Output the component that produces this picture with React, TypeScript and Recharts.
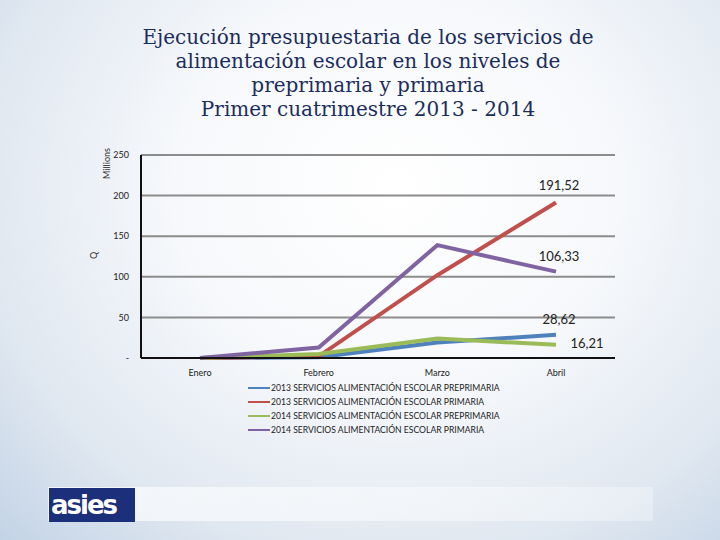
import { CartesianGrid, LabelList, Line, LineChart, XAxis, YAxis } from "recharts";

const MONTHS = ["Enero", "Febrero", "Marzo", "Abril"];
const PRE_2013 = [0, 1, 19, 28.62];
const PRI_2013 = [0, 2, 102, 191.52];
const PRE_2014 = [0, 5, 24, 16.21];
const PRI_2014 = [0, 13, 139, 106.33];
const Y_TICKS = [0, 50, 100, 150, 200, 250];

const SERIES = [
  { key: "pre13", name: "2013 SERVICIOS ALIMENTACIÓN ESCOLAR PREPRIMARIA", color: "#4f81bd", values: PRE_2013, dx: 3, dy: -16 },
  { key: "pri13", name: "2013 SERVICIOS ALIMENTACIÓN ESCOLAR PRIMARIA", color: "#c0504d", values: PRI_2013, dx: 3, dy: -17 },
  { key: "pre14", name: "2014 SERVICIOS ALIMENTACIÓN ESCOLAR PREPRIMARIA", color: "#9bbb59", values: PRE_2014, dx: 31, dy: -2 },
  { key: "pri14", name: "2014 SERVICIOS ALIMENTACIÓN ESCOLAR PRIMARIA", color: "#8064a2", values: PRI_2014, dx: 3, dy: -16 },
];

const data = MONTHS.map((m, i) => {
  const row: Record<string, string | number> = { month: m };
  SERIES.forEach((s) => (row[s.key] = s.values[i]));
  return row;
});

const fmt = (v: number) => v.toFixed(2).replace(".", ",");

function endLabel(dx: number, dy: number) {
  return (props: any) => {
    const { x, y, value, index } = props;
    if (index !== MONTHS.length - 1) return null;
    return (
      <text x={x + dx} y={y + dy} textAnchor="middle" dominantBaseline="central" fontSize={13} fill="#222" fontFamily="Lato, sans-serif">
        {fmt(Number(value))}
      </text>
    );
  };
}

function LegendBox() {
  return (
    <div style={{ position: "absolute", left: 248, top: 381, fontFamily: "Lato, sans-serif", fontSize: 8.6, color: "#222" }}>
      {SERIES.map((s) => (
        <div key={s.key} style={{ display: "flex", alignItems: "center", height: 14 }}>
          <div style={{ width: 22, height: 2, background: s.color, marginRight: 1 }} />
          <span>{s.name}</span>
        </div>
      ))}
    </div>
  );
}

export default function App() {
  return (
    <div
      style={{
        position: "absolute",
        left: 0,
        top: 0,
        width: 720,
        height: 540,
        overflow: "hidden",
        background:
          "radial-gradient(ellipse at 55% 35%, #ffffff 0%, #f6f8fb 40%, #dfe7f0 75%, #c3d3e6 100%)",
      }}
    >
      <div
        style={{
          position: "absolute",
          left: 0,
          top: 25,
          width: 736,
          textAlign: "center",
          fontFamily: "'DejaVu Serif', serif",
          fontSize: 20,
          lineHeight: "24px",
          color: "#1c2d5c",
        }}
      >
        Ejecución presupuestaria de los servicios de
        <br />
        alimentación escolar en los niveles de
        <br />
        preprimaria y primaria
        <br />
        Primer cuatrimestre 2013 - 2014
      </div>
      <div
        style={{
          position: "absolute",
          left: 86,
          top: 158,
          width: 40,
          textAlign: "center",
          transform: "rotate(-90deg)",
          fontFamily: "Lato, sans-serif",
          fontSize: 9,
          color: "#333",
        }}
      >
        Millions
      </div>
      <div
        style={{
          position: "absolute",
          left: 88,
          top: 250,
          width: 10,
          textAlign: "center",
          transform: "rotate(-90deg)",
          fontFamily: "Lato, sans-serif",
          fontSize: 9,
          color: "#333",
        }}
      >
        Q
      </div>
      <div
        style={{
          position: "absolute",
          left: 48,
          top: 487,
          width: 605,
          height: 34,
          background: "linear-gradient(90deg, rgba(255,255,255,0.7), rgba(255,255,255,0.3))",
        }}
      />
      <div
        style={{
          position: "absolute",
          left: 49,
          top: 488,
          width: 86,
          height: 34,
          background: "#1c2f7a",
          color: "#fff",
          fontFamily: "'DejaVu Sans', sans-serif",
          fontWeight: 900,
          fontSize: 26,
          lineHeight: "34px",
          letterSpacing: -2,
          paddingLeft: 2,
          boxSizing: "border-box",
        }}
      >
        asies
      </div>
      <LegendBox />
      <LineChart
        width={720}
        height={540}
        data={data}
        margin={{ top: 155, right: 105, left: 60, bottom: 168 }}
        style={{ position: "absolute", left: 0, top: 0 }}
      >
        <CartesianGrid vertical={false} stroke="#8c8c8c" strokeWidth={2} />
        <XAxis
          dataKey="month"
          padding={{ left: 59, right: 59 }}
          tickLine={false}
          axisLine={{ stroke: "#111", strokeWidth: 2 }}
          tick={{ fontSize: 9, fill: "#222", fontFamily: "Lato, sans-serif" }}
          tickMargin={6}
          height={14}
        />
        <YAxis
          width={81}
          domain={[0, 250]}
          ticks={Y_TICKS}
          tickFormatter={(v) => (v === 0 ? "-" : String(v))}
          tickLine={false}
          axisLine={{ stroke: "#111", strokeWidth: 2 }}
          tick={{ fontSize: 9, fill: "#222", fontFamily: "Lato, sans-serif" }}
          tickMargin={6}
        />
        {SERIES.map((s) => (
          <Line
            key={s.key}
            dataKey={s.key}
            name={s.name}
            type="linear"
            stroke={s.color}
            strokeWidth={4}
            dot={false}
            isAnimationActive={false}
          >
            <LabelList dataKey={s.key} content={endLabel(s.dx, s.dy)} />
          </Line>
        ))}
      </LineChart>
    </div>
  );
}
